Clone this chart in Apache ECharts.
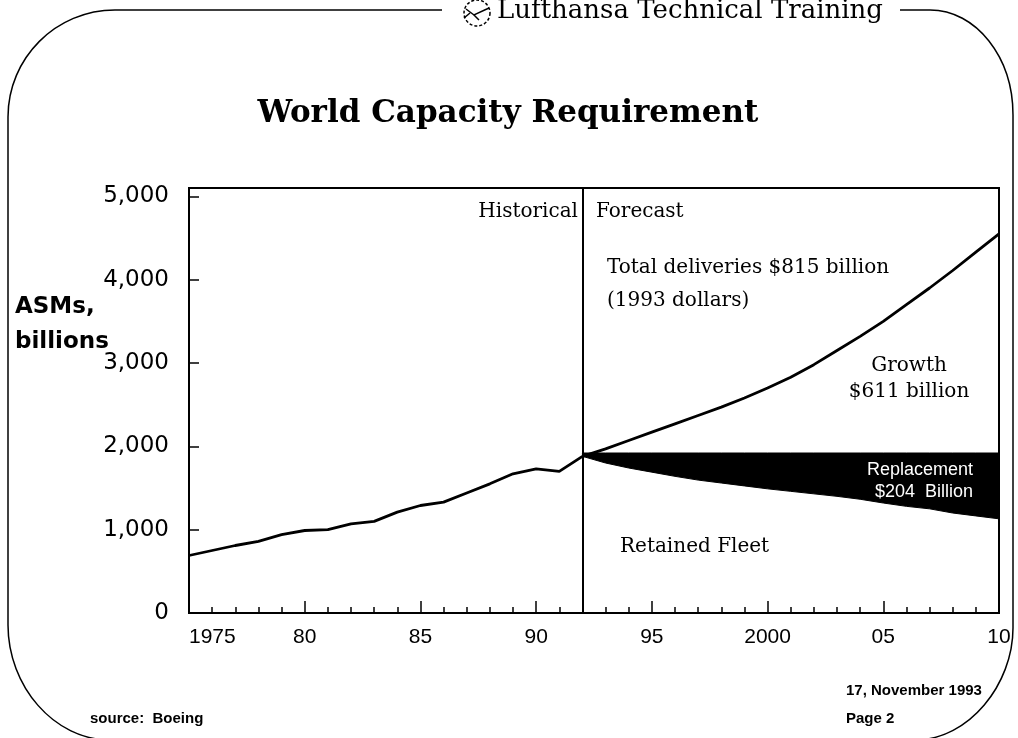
<!DOCTYPE html>
<html><head><meta charset="utf-8">
<script src="https://cdn.jsdelivr.net/npm/echarts@6/dist/echarts.min.js"></script>
<style>html,body{margin:0;padding:0;background:#fff;}#c{width:1018px;height:738px;}</style>
</head><body><div id="c"></div>
<script>
// ---- data ----
const histYears = [1975,1976,1977,1978,1979,1980,1981,1982,1983,1984,1985,1986,1987,1988,1989,1990,1991,1992];
const histValues = [690,750,810,860,940,990,1000,1070,1100,1210,1290,1330,1440,1550,1670,1730,1700,1880];
const forecastYears = [1992,1993,1994,1995,1996,1997,1998,1999,2000,2001,2002,2003,2004,2005,2006,2007,2008,2009,2010];
const totalValues = [1880,1970,2070,2170,2270,2370,2470,2580,2700,2830,2980,3150,3320,3500,3700,3900,4110,4330,4550];
const retainedValues = [1880,1800,1740,1690,1640,1595,1560,1525,1490,1460,1430,1400,1365,1320,1280,1250,1200,1165,1130];
const replacementTop = [1920,1920,1920,1920,1920,1920,1920,1920,1920,1920,1920,1920,1920,1920,1920,1920,1920,1920,1920];
const xLabelYears = [1975,1980,1985,1990,1995,2000,2005,2010];
const xLabelTexts = ['1975','80','85','90','95','2000','05','10'];
const yTickValues = [0,1000,2000,3000,4000,5000];
const yTickLabels = ['0','1,000','2,000','3,000','4,000','5,000'];
const dividerYear = 1992;

const chart = echarts.init(document.getElementById('c'), null, {renderer:'canvas'});
const pairs = (xs, ys) => xs.map((x,i)=>[x, ys[i]]);
const black = '#000';
const stroke = { fill: null, stroke: black, lineWidth: 1.5 };
const ln = (x1,y1,x2,y2) => ({ type: 'line', z: 100, shape: {x1,y1,x2,y2}, style: stroke });
const bz = (x1,y1,cpx1,cpy1,cpx2,cpy2,x2,y2) => ({ type: 'bezierCurve', z: 100, shape: {x1,y1,cpx1,cpy1,cpx2,cpy2,x2,y2}, style: stroke });
const txt = (x, y, text, font, align, fill) => ({ type: 'text', z: 100, x, y,
  style: { text, font, fill: fill || black, textAlign: align || 'left', textVerticalAlign: 'middle' } });

const bandData = forecastYears.map((y,i)=>[y, replacementTop[i], retainedValues[i]]);

const option = {
  backgroundColor: '#fff',
  animation: false,
  grid: { left: 189, right: 19, top: 188, bottom: 125, show: true, borderColor: black, borderWidth: 2, backgroundColor: 'transparent' },
  xAxis: {
    type: 'value', min: 1975, max: 2010, interval: 5,
    axisLine: { show: true, lineStyle: { color: black, width: 2 } },
    axisTick: { show: true, inside: true, length: 12, lineStyle: { color: black, width: 1.5 } },
    minorTick: { show: true, splitNumber: 5, length: 6, lineStyle: { color: black, width: 1.5 } },
    splitLine: { show: false },
    axisLabel: {
      margin: 14, color: black, fontFamily: 'Liberation Sans', fontSize: 21,
      alignMinLabel: 'left',
      formatter: v => { const i = xLabelYears.indexOf(Math.round(v)); return i >= 0 ? xLabelTexts[i] : ''; }
    }
  },
  yAxis: {
    type: 'value', min: 0, max: 5100, interval: 1000,
    axisLine: { show: true, lineStyle: { color: black, width: 2 } },
    axisTick: { show: true, inside: true, length: 10, lineStyle: { color: black, width: 1.5 } },
    splitLine: { show: false },
    axisLabel: {
      margin: 20, color: black, fontFamily: 'DejaVu Sans', fontSize: 23, padding: [8,0,0,0],
      formatter: v => { const i = yTickValues.indexOf(v); return i >= 0 ? yTickLabels[i] : ''; }
    }
  },
  series: [
    { name: 'Replacement', type: 'custom', z: 3, data: bandData, encode: { x: 0, y: [1, 2] },
      renderItem: (params, api) => {
        if (params.dataIndex !== 0) return null;
        const pts = [];
        for (let i = 0; i < bandData.length; i++) pts.push(api.coord([bandData[i][0], bandData[i][1]]));
        for (let i = bandData.length - 1; i >= 0; i--) pts.push(api.coord([bandData[i][0], bandData[i][2]]));
        return { type: 'polygon', shape: { points: pts }, style: { fill: black, stroke: black, lineWidth: 1 } };
      } },
    { name: 'Historical', type: 'line', data: pairs(histYears, histValues), showSymbol: false, z: 5,
      lineStyle: { color: black, width: 2.8 },
      markLine: { silent: true, symbol: 'none', label: { show: false },
        lineStyle: { color: black, width: 2, type: 'solid' }, data: [{ xAxis: dividerYear }] } },
    { name: 'Total', type: 'line', data: pairs(forecastYears, totalValues), showSymbol: false, z: 5,
      lineStyle: { color: black, width: 2.8 } }
  ],
  graphic: [
    ln(115,10,442,10),
    bz(115,10,56,10,8,58,8,117),
    ln(8,117,8,625),
    bz(8,625,8,686,54,740,110,740),
    bz(915,740,969,740,1013,684,1013,628),
    ln(1013,628,1013,115),
    bz(1013,115,1013,57,976,10,930,10),
    ln(930,10,900,10),
    { type: 'circle', z: 100, shape: { cx: 477, cy: 13, r: 13 }, style: { fill: null, stroke: black, lineWidth: 1.5, lineDash: [3,2] } },
    { type: 'polyline', z: 100, shape: { points: [[466,9],[474,15],[489,8]] }, style: stroke },
    { type: 'polyline', z: 100, shape: { points: [[474,15],[479,20]] }, style: stroke },
    { type: 'polyline', z: 100, shape: { points: [[470,13],[464,18]] }, style: stroke },
    txt(497, 11, 'Lufthansa Technical Training', '26px "DejaVu Serif"'),
    txt(508, 114, 'World Capacity Requirement', 'bold 31px "DejaVu Serif"', 'center'),
    txt(15, 307, 'ASMs,', 'bold 23px "DejaVu Sans"'),
    txt(15, 342, 'billions', 'bold 23px "DejaVu Sans"'),
    txt(578, 212, 'Historical', '20px "DejaVu Serif"', 'right'),
    txt(596, 212, 'Forecast', '20px "DejaVu Serif"'),
    txt(607, 268, 'Total deliveries $815 billion', '20px "DejaVu Serif"'),
    txt(607, 301, '(1993 dollars)', '20px "DejaVu Serif"'),
    txt(909, 366, 'Growth', '20px "DejaVu Serif"', 'center'),
    txt(909, 392, '$611 billion', '20px "DejaVu Serif"', 'center'),
    txt(973, 470, 'Replacement', '18px "Liberation Sans"', 'right', '#fff'),
    txt(973, 492, '$204  Billion', '18px "Liberation Sans"', 'right', '#fff'),
    txt(620, 547, 'Retained Fleet', '20px "DejaVu Serif"'),
    txt(90, 719, 'source:  Boeing', 'bold 15px "Liberation Sans"'),
    txt(846, 691, '17, November 1993', 'bold 15px "Liberation Sans"'),
    txt(846, 719, 'Page 2', 'bold 15px "Liberation Sans"')
  ]
};
chart.setOption(option);
</script>
</body></html>
